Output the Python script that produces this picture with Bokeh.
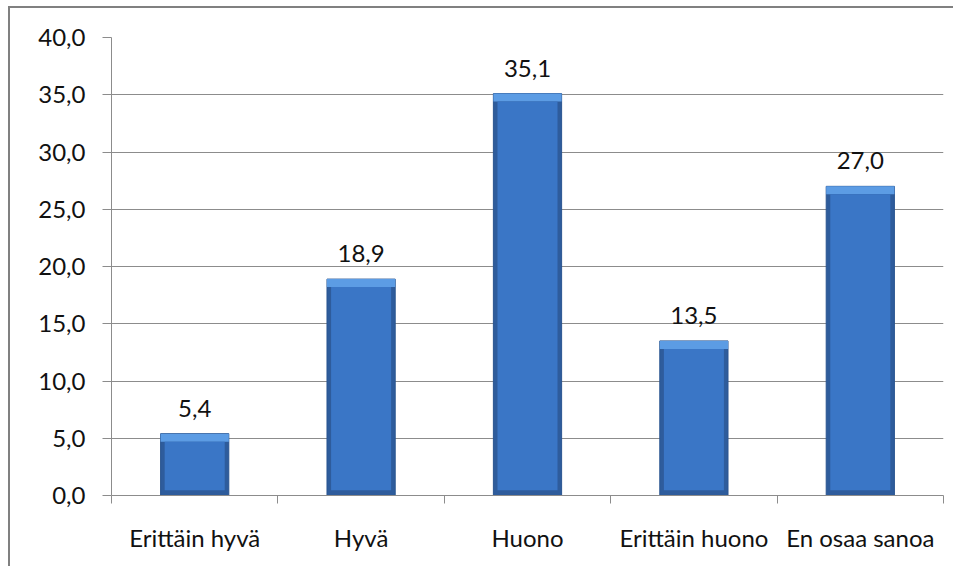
from bokeh.plotting import figure
from bokeh.models import (ColumnDataSource, Range1d, LinearAxis,
                          FixedTicker, LabelSet, CustomJSTickFormatter)
from bokeh.core.properties import value
from bokeh.embed import file_html
from bokeh.resources import INLINE

categories = ["Erittäin hyvä", "Hyvä", "Huono", "Erittäin huono", "En osaa sanoa"]
values = [5.4, 18.9, 35.1, 13.5, 27.0]
y_ticks = [0, 5, 10, 15, 20, 25, 30, 35, 40]
y_tick_labels = ["0,0", "5,0", "10,0", "15,0", "20,0", "25,0", "30,0", "35,0", "40,0"]

FONT = "Lato"
FS = "24px"
TXT = "#111111"
GRID = "#8c8c8c"

n = len(categories)
xpos = [i + 0.5 for i in range(n)]
labels = [f"{v:.1f}".replace(".", ",") for v in values]
top_bevel = [max(v - 0.7, 0) for v in values]
body_top = [max(v - 0.7, 0) for v in values]
src = ColumnDataSource(dict(x=xpos, cat=categories, val=values, lab=labels,
                            tb=top_bevel, bt=body_top))

p = figure(x_range=Range1d(0, n), y_range=Range1d(y_ticks[0], y_ticks[-1]),
           width=945, height=560, output_backend="svg", toolbar_location=None,
           x_axis_location=None, min_border_left=101, min_border_right=12,
           min_border_top=29, min_border_bottom=73)
p.styles = {"border-left": "2px solid #808080", "border-top": "2px solid #808080",
            "margin-left": "8px", "margin-top": "6px"}
p.outline_line_color = None
p.background_fill_color = "white"
p.border_fill_color = "white"
p.xgrid.grid_line_color = None
p.ygrid.grid_line_color = GRID
p.ygrid.grid_line_width = 1

# y axis
ya = p.yaxis[0]
ya.ticker = FixedTicker(ticks=y_ticks)
ya.major_label_overrides = {t: l for t, l in zip(y_ticks, y_tick_labels)}
ya.axis_line_color = GRID
ya.major_tick_line_color = GRID
ya.major_tick_out = 9
ya.major_tick_in = 0
ya.minor_tick_line_color = None
ya.major_label_text_font = FONT
ya.major_label_text_font_size = FS
ya.major_label_text_color = TXT
ya.major_label_standoff = 17

# boundary ticks axis
tick_axis = LinearAxis(ticker=FixedTicker(ticks=list(range(n + 1))),
                       formatter=CustomJSTickFormatter(code="return ''"))
tick_axis.axis_line_color = GRID
tick_axis.major_tick_line_color = GRID
tick_axis.major_tick_out = 8
tick_axis.major_tick_in = 0
tick_axis.minor_tick_line_color = None
tick_axis.major_label_standoff = 0
tick_axis.major_label_text_font_size = "1px"
p.add_layout(tick_axis, "below")

cat_axis = LinearAxis(ticker=FixedTicker(ticks=xpos))
cat_axis.major_label_overrides = {x: c for x, c in zip(xpos, categories)}
cat_axis.axis_line_color = None
cat_axis.major_tick_line_color = None
cat_axis.minor_tick_line_color = None
cat_axis.major_label_text_font = FONT
cat_axis.major_label_text_font_size = FS
cat_axis.major_label_text_color = TXT
cat_axis.major_label_standoff = 13
p.add_layout(cat_axis, "below")

W = 0.41
# bar base (dark edges)
p.vbar(x="x", top="val", bottom=0, width=W, source=src,
       fill_color="#2e5c9c", line_color="#2a5590", line_width=1)
# top bevel
p.vbar(x="x", top="val", bottom="tb", width=W, source=src,
       fill_color="#5c9ce4", line_color=None)
# body
p.vbar(x="x", top="bt", bottom=0.45, width=W * 0.88, source=src,
       fill_color="#3a76c6", line_color=None)

ls = LabelSet(x="x", y="val", text="lab", source=src, y_offset=17,
              text_align="center", text_baseline="alphabetic",
              text_font=value(FONT), text_font_size=value(FS), text_color=TXT)
p.add_layout(ls)

open("out.html", "w").write(file_html(p, INLINE))
